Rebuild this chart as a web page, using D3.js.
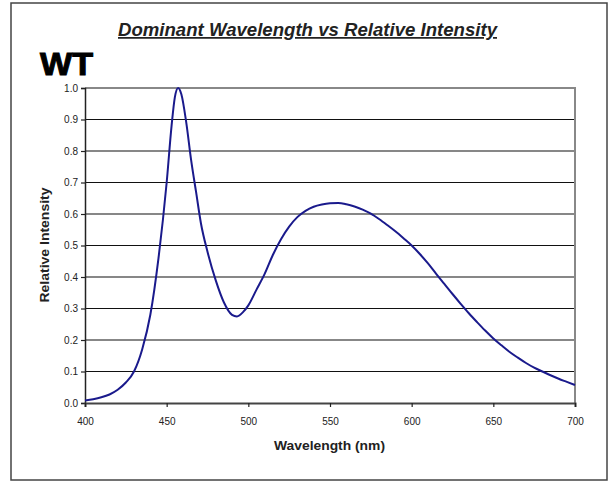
<!DOCTYPE html>
<html><head><meta charset="utf-8">
<script src="https://cdn.jsdelivr.net/npm/d3@7"></script>
<style>body{margin:0;background:#fff;} text{font-family:"Liberation Sans",Arial,sans-serif;}</style>
</head><body>
<svg id="c" width="611" height="482"></svg>
<script>
const wavelengths = [400,405,410,415,420,425,430,435,440,445,450,453,455,457,459,462,465,468,471,475,480,485,490,493,497,500,505,510,515,520,525,530,535,540,545,550,555,560,565,570,575,580,585,590,595,600,605,610,615,620,625,630,635,640,645,650,655,660,665,670,675,680,685,690,695,700];
const intensity = [0.008,0.012,0.018,0.027,0.042,0.065,0.10,0.17,0.28,0.46,0.70,0.88,0.97,1.0,0.98,0.89,0.77,0.67,0.57,0.48,0.39,0.32,0.28,0.275,0.29,0.31,0.36,0.41,0.47,0.52,0.56,0.59,0.61,0.623,0.63,0.634,0.635,0.631,0.624,0.614,0.601,0.584,0.565,0.545,0.523,0.50,0.473,0.443,0.41,0.378,0.346,0.315,0.285,0.257,0.23,0.205,0.183,0.162,0.144,0.127,0.112,0.10,0.088,0.077,0.067,0.057];
const xTicks = [400,450,500,550,600,650,700];
const yTicks = [0,0.1,0.2,0.3,0.4,0.5,0.6,0.7,0.8,0.9,1.0];

const svg = d3.select("#c");
const L=85,R=575,T=88,B=403;
const x = d3.scaleLinear().domain([400,700]).range([L,R]);
const y = d3.scaleLinear().domain([0,1]).range([B,T]);

// outer frame
svg.append("rect").attr("x",11).attr("y",3).attr("width",596).attr("height",477)
  .attr("fill","none").attr("stroke","#444").attr("stroke-width",1.5);

// gridlines
svg.append("g").selectAll("line").data(yTicks.slice(1,-1)).join("line")
  .attr("x1",L).attr("x2",R).attr("y1",d=>y(d)).attr("y2",d=>y(d))
  .attr("stroke","#111").attr("stroke-width",1.2);

// plot border top/right
svg.append("path").attr("d",`M${L},${T}H${R}V${B}`).attr("fill","none").attr("stroke","#888").attr("stroke-width",2);

// axes
const ya = svg.append("g").attr("transform",`translate(${L},0)`)
  .call(d3.axisLeft(y).tickValues(yTicks).tickFormat(d3.format(".1f")).tickSize(4).tickPadding(3));
const xa = svg.append("g").attr("transform",`translate(0,${B})`)
  .call(d3.axisBottom(x).tickValues(xTicks).tickSize(4).tickPadding(11));
[ya,xa].forEach(a=>{
  a.select(".domain").attr("stroke","#222").attr("stroke-width",1.5);
  a.selectAll(".tick line").attr("stroke","#222").attr("stroke-width",1.2);
  a.selectAll("text").attr("font-size",10).attr("fill","#222").style("font-family","Liberation Sans, Arial, sans-serif");
});
xa.select(".domain").attr("stroke","#444").attr("stroke-width",2);

// curve
svg.append("path").datum(wavelengths.map((w,i)=>[w,intensity[i]]))
  .attr("fill","none").attr("stroke","#1a1a8c").attr("stroke-width",2)
  .attr("d",d3.line().x(d=>x(d[0])).y(d=>y(d[1])).curve(d3.curveMonotoneX));

// titles
svg.append("text").attr("x",118).attr("y",36)
  .attr("font-size",17.5).attr("font-weight","bold").attr("font-style","italic")
  .attr("textLength",379).attr("lengthAdjust","spacingAndGlyphs")
  .attr("text-decoration","underline").attr("fill","#222").text("Dominant Wavelength vs Relative Intensity");
svg.append("text").attr("x",40).attr("y",75).attr("font-size",31).attr("font-weight","900")
  .attr("textLength",53).attr("lengthAdjust","spacingAndGlyphs")
  .attr("fill","#000").attr("stroke","#000").attr("stroke-width",1).text("WT");
svg.append("text").attr("transform",`translate(49,245) rotate(-90)`).attr("text-anchor","middle")
  .attr("font-size",12).attr("font-weight","bold").attr("fill","#222")
  .attr("textLength",115).attr("lengthAdjust","spacingAndGlyphs").text("Relative Intensity");
svg.append("text").attr("x",329.5).attr("y",450).attr("text-anchor","middle")
  .attr("font-size",12).attr("font-weight","bold").attr("fill","#222")
  .attr("textLength",111).attr("lengthAdjust","spacingAndGlyphs").text("Wavelength (nm)");
</script>
</body></html>
